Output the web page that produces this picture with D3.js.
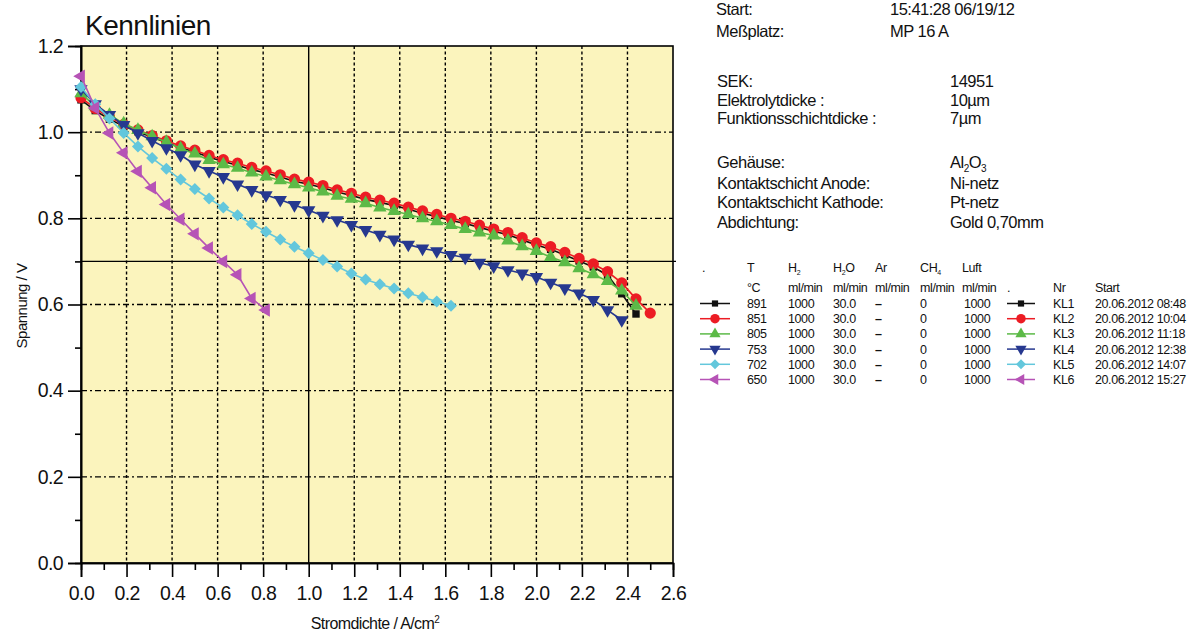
<!DOCTYPE html>
<html>
<head>
<meta charset="utf-8">
<script src="https://cdn.jsdelivr.net/npm/d3@7"></script>
<style>
  html, body { margin: 0; padding: 0; background: #ffffff; }
  svg { display: block; font-family: "Liberation Sans", Arial, sans-serif; }
</style>
</head>
<body>
<svg id="chart" width="1196" height="640"></svg>
<script>
// ---------------- DATA ----------------
const currentDensity = [0, 0.0625, 0.125, 0.1875, 0.25, 0.3125, 0.375, 0.4375, 0.5, 0.5625,
  0.625, 0.6875, 0.75, 0.8125, 0.875, 0.9375, 1.0, 1.0625, 1.125, 1.1875,
  1.25, 1.3125, 1.375, 1.4375, 1.5, 1.5625, 1.625, 1.6875, 1.75, 1.8125,
  1.875, 1.9375, 2.0, 2.0625, 2.125, 2.1875, 2.25, 2.3125, 2.375, 2.4375, 2.5];

const kl1Voltage = [1.075, 1.050, 1.030, 1.014, 1.001, 0.988, 0.976, 0.964, 0.954, 0.942,
  0.932, 0.923, 0.913, 0.905, 0.896, 0.886, 0.879, 0.871, 0.861, 0.853,
  0.844, 0.837, 0.830, 0.821, 0.812, 0.804, 0.795, 0.788, 0.779, 0.770,
  0.762, 0.750, 0.738, 0.728, 0.715, 0.701, 0.687, 0.668, 0.625, 0.578];
const kl2Voltage = [1.080, 1.055, 1.035, 1.018, 1.005, 0.992, 0.980, 0.968, 0.958, 0.946,
  0.936, 0.928, 0.918, 0.910, 0.901, 0.891, 0.884, 0.876, 0.866, 0.858,
  0.849, 0.842, 0.835, 0.826, 0.817, 0.809, 0.800, 0.793, 0.784, 0.775,
  0.767, 0.755, 0.743, 0.734, 0.721, 0.707, 0.694, 0.676, 0.650, 0.613, 0.580];
const kl3Voltage = [1.090, 1.060, 1.040, 1.020, 1.005, 0.990, 0.977, 0.962, 0.950, 0.935,
  0.925, 0.917, 0.906, 0.897, 0.888, 0.879, 0.871, 0.862, 0.852, 0.845,
  0.835, 0.825, 0.817, 0.809, 0.800, 0.793, 0.784, 0.775, 0.767, 0.760,
  0.748, 0.735, 0.724, 0.710, 0.698, 0.684, 0.670, 0.654, 0.632, 0.597];
const kl4Voltage = [1.100, 1.065, 1.040, 1.017, 0.998, 0.980, 0.963, 0.947, 0.925, 0.910,
  0.896, 0.879, 0.866, 0.854, 0.843, 0.831, 0.819, 0.806, 0.796, 0.785,
  0.773, 0.762, 0.751, 0.739, 0.730, 0.724, 0.715, 0.709, 0.697, 0.689,
  0.680, 0.672, 0.664, 0.651, 0.638, 0.626, 0.611, 0.587, 0.564];
const kl5Voltage = [1.105, 1.065, 1.032, 0.998, 0.967, 0.940, 0.915, 0.890, 0.868, 0.846,
  0.825, 0.807, 0.787, 0.769, 0.751, 0.734, 0.719, 0.703, 0.688, 0.672,
  0.658, 0.647, 0.637, 0.626, 0.617, 0.607, 0.597];
const kl6Voltage = [1.130, 1.056, 0.998, 0.952, 0.909, 0.871, 0.832, 0.798, 0.764, 0.731,
  0.700, 0.669, 0.614, 0.587];

const seriesNames = ["KL1", "KL2", "KL3", "KL4", "KL5", "KL6"];
const temperatures = ["891", "851", "805", "753", "702", "650"];
const h2Flow = ["1000", "1000", "1000", "1000", "1000", "1000"];
const h2oFlow = ["30.0", "30.0", "30.0", "30.0", "30.0", "30.0"];
const arFlow = ["–", "–", "–", "–", "–", "–"];
const ch4Flow = ["0", "0", "0", "0", "0", "0"];
const airFlow = ["1000", "1000", "1000", "1000", "1000", "1000"];
const startTimes = ["20.06.2012 08:48", "20.06.2012 10:04", "20.06.2012 11:18",
  "20.06.2012 12:38", "20.06.2012 14:07", "20.06.2012 15:27"];

const xTicks = [0, 0.2, 0.4, 0.6, 0.8, 1.0, 1.2, 1.4, 1.6, 1.8, 2.0, 2.2, 2.4, 2.6];
const xMinorTicks = [0.1, 0.3, 0.5, 0.7, 0.9, 1.1, 1.3, 1.5, 1.7, 1.9, 2.1, 2.3, 2.5];
const yTicks = [0, 0.2, 0.4, 0.6, 0.8, 1.0, 1.2];
const yMinorTicks = [0.1, 0.3, 0.5, 0.7, 0.9, 1.1];

const infoLabels1 = ["Start:", "Meßplatz:"];
const infoValues1 = ["15:41:28 06/19/12", "MP 16 A"];
const infoLabels2 = ["SEK:", "Elektrolytdicke :", "Funktionsschichtdicke :"];
const infoValues2 = ["14951", "10µm", "7µm"];
const infoLabels3 = ["Gehäuse:", "Kontaktschicht Anode:", "Kontaktschicht Kathode:", "Abdichtung:"];
const infoValues3 = ["Al2O3", "Ni-netz", "Pt-netz", "Gold 0,70mm"];

// ---------------- STYLE ----------------
const colors = ["#111111", "#ec1c24", "#5cba47", "#26388f", "#63c7dc", "#b653b6"];
const symbols = [
  {type: d3.symbolSquare, size: 55, rot: 0},
  {type: d3.symbolCircle, size: 100, rot: 0},
  {type: d3.symbolTriangle, size: 78, rot: 0},
  {type: d3.symbolTriangle, size: 78, rot: 180},
  {type: d3.symbolSquare, size: 72, rot: 45},
  {type: d3.symbolTriangle, size: 78, rot: -90}
];
const allVoltages = [kl1Voltage, kl2Voltage, kl3Voltage, kl4Voltage, kl5Voltage, kl6Voltage];

const svg = d3.select("#chart");
const plot = {left: 81, right: 673, top: 46, bottom: 563};
const x = d3.scaleLinear().domain([0, 2.6]).range([plot.left, plot.right]);
const y = d3.scaleLinear().domain([0, 1.2]).range([plot.bottom, plot.top]);

// background
svg.append("rect").attr("x", plot.left).attr("y", plot.top)
  .attr("width", plot.right - plot.left).attr("height", plot.bottom - plot.top)
  .attr("fill", "#fbf4bd");

// grid
const grid = svg.append("g");
grid.selectAll("line.vg").data(xTicks.filter(v => v > 0 && v < 2.6 && v !== 1.0)).enter()
  .append("line").attr("x1", d => x(d)).attr("x2", d => x(d))
  .attr("y1", plot.top).attr("y2", plot.bottom)
  .attr("stroke", "#000").attr("stroke-width", 1.4).attr("stroke-dasharray", "3,2.5");
grid.selectAll("line.hg").data(yTicks.filter(v => v > 0 && v < 1.2)).enter()
  .append("line").attr("y1", d => y(d)).attr("y2", d => y(d))
  .attr("x1", plot.left).attr("x2", plot.right)
  .attr("stroke", "#000").attr("stroke-width", 1.4).attr("stroke-dasharray", "6,3,2,3");
// solid reference lines
grid.append("line").attr("x1", x(1.0)).attr("x2", x(1.0)).attr("y1", plot.top).attr("y2", plot.bottom)
  .attr("stroke", "#000").attr("stroke-width", 1.4);
grid.append("line").attr("x1", plot.left).attr("x2", plot.right + 3).attr("y1", y(0.7)).attr("y2", y(0.7))
  .attr("stroke", "#000").attr("stroke-width", 1.4);

// frame
svg.append("rect").attr("x", plot.left).attr("y", plot.top)
  .attr("width", plot.right - plot.left).attr("height", plot.bottom - plot.top)
  .attr("fill", "none").attr("stroke", "#000").attr("stroke-width", 1.6);

// axes
const fmt = d3.format(".1f");
const xAxis = svg.append("g").attr("transform", `translate(0,${plot.bottom})`)
  .call(d3.axisBottom(x).tickValues(xTicks).tickSize(14).tickPadding(9).tickFormat(fmt));
const xMinor = svg.append("g").attr("transform", `translate(0,${plot.bottom})`)
  .call(d3.axisBottom(x).tickValues(xMinorTicks).tickSize(7).tickFormat(""));
const yAxis = svg.append("g").attr("transform", `translate(${plot.left},0)`)
  .call(d3.axisLeft(y).tickValues(yTicks).tickSize(13).tickPadding(5).tickFormat(fmt));
const yMinor = svg.append("g").attr("transform", `translate(${plot.left},0)`)
  .call(d3.axisLeft(y).tickValues(yMinorTicks).tickSize(6).tickFormat(""));
[xAxis, xMinor, yAxis, yMinor].forEach(g => {
  g.select(".domain").attr("stroke", "#000").attr("stroke-width", 1.6);
  g.selectAll(".tick line").attr("stroke", "#000").attr("stroke-width", 1.6);
  g.selectAll("text").attr("fill", "#111").style("font-size", "19.5px")
    .style("font-family", "'Liberation Sans', Arial, sans-serif").style("letter-spacing", "-0.6px");
});

// series
const lineGen = d3.line().x(d => x(d[0])).y(d => y(d[1]));
allVoltages.forEach((vals, i) => {
  const pts = vals.map((v, k) => [currentDensity[k], v]);
  const g = svg.append("g");
  g.append("path").datum(pts).attr("d", lineGen)
    .attr("fill", "none").attr("stroke", colors[i]).attr("stroke-width", 1.6);
  const sym = d3.symbol().type(symbols[i].type).size(symbols[i].size);
  g.selectAll("path.m").data(pts).enter().append("path")
    .attr("d", sym)
    .attr("transform", d => `translate(${x(d[0])},${y(d[1])}) rotate(${symbols[i].rot})`)
    .attr("fill", colors[i]);
});

// title & axis labels
svg.append("text").attr("x", 85).attr("y", 35).text("Kennlinien")
  .style("font-size", "28px").attr("fill", "#111").style("letter-spacing", "-0.5px");
svg.append("text").attr("transform", "translate(27,306) rotate(-90)")
  .attr("text-anchor", "middle").style("font-size", "15px").style("letter-spacing", "-0.5px")
  .attr("fill", "#111").text("Spannung / V");
const xl = svg.append("text").attr("x", 375).attr("y", 629).attr("text-anchor", "middle")
  .style("font-size", "16px").style("letter-spacing", "-0.6px").attr("fill", "#111");
xl.append("tspan").text("Stromdichte / A/cm");
xl.append("tspan").attr("dy", -6).style("font-size", "10px").text("2");

// info block
const info = svg.append("g").style("font-size", "16.5px").style("letter-spacing", "-0.5px").attr("fill", "#111");
const b1 = [15, 37], b2 = [87, 106, 124], b3 = [168, 189, 208, 228];
infoLabels1.forEach((t, i) => {
  info.append("text").attr("x", 716).attr("y", b1[i]).text(t);
  info.append("text").attr("x", 890).attr("y", b1[i]).text(infoValues1[i]);
});
infoLabels2.forEach((t, i) => {
  info.append("text").attr("x", 717).attr("y", b2[i]).text(t);
  info.append("text").attr("x", 950).attr("y", b2[i]).text(infoValues2[i]);
});
infoLabels3.forEach((t, i) => {
  info.append("text").attr("x", 717).attr("y", b3[i]).text(t);
  const tv = info.append("text").attr("x", 950).attr("y", b3[i]);
  if (infoValues3[i] === "Al2O3") {
    tv.append("tspan").text("Al");
    tv.append("tspan").attr("dy", 4).style("font-size", "10px").text("2");
    tv.append("tspan").attr("dy", -4).text("O");
    tv.append("tspan").attr("dy", 4).style("font-size", "10px").text("3");
  } else {
    tv.text(infoValues3[i]);
  }
});

// legend table
const leg = svg.append("g").style("font-size", "12.5px").style("letter-spacing", "-0.4px").attr("fill", "#111");
const colX = {T: 747, H2: 788, H2O: 833, Ar: 875, CH4: 920, Luft: 962, dot: 1007, Nr: 1053, Start: 1095};
const hdr1 = 272, hdr2 = 292;
leg.append("text").attr("x", 702).attr("y", hdr1).text(".");
leg.append("text").attr("x", colX.T).attr("y", hdr1).text("T");
let t = leg.append("text").attr("x", colX.H2).attr("y", hdr1);
t.append("tspan").text("H"); t.append("tspan").attr("dy", 3).style("font-size", "7px").text("2");
t = leg.append("text").attr("x", colX.H2O).attr("y", hdr1);
t.append("tspan").text("H"); t.append("tspan").attr("dy", 3).style("font-size", "7px").text("2");
t.append("tspan").attr("dy", -3).text("O");
leg.append("text").attr("x", colX.Ar).attr("y", hdr1).text("Ar");
t = leg.append("text").attr("x", colX.CH4).attr("y", hdr1);
t.append("tspan").text("CH"); t.append("tspan").attr("dy", 3).style("font-size", "7px").text("4");
leg.append("text").attr("x", colX.Luft).attr("y", hdr1).text("Luft");
leg.append("text").attr("x", colX.T).attr("y", hdr2).text("°C");
["H2", "H2O", "Ar", "CH4", "Luft"].forEach(k => {
  leg.append("text").attr("x", colX[k]).attr("y", hdr2).text("ml/min");
});
leg.append("text").attr("x", colX.dot).attr("y", hdr2).text(".");
leg.append("text").attr("x", colX.Nr).attr("y", hdr2).text("Nr");
leg.append("text").attr("x", colX.Start).attr("y", hdr2).text("Start");

const rowY = [303.5, 318.7, 333.9, 349.1, 364.3, 379.5];
seriesNames.forEach((name, i) => {
  const cy = rowY[i];
  const sym = d3.symbol().type(symbols[i].type).size(symbols[i].size * 0.7);
  [[700, 730, 715], [1007, 1035, 1021]].forEach(([a, b, m]) => {
    leg.append("line").attr("x1", a).attr("x2", b).attr("y1", cy).attr("y2", cy)
      .attr("stroke", colors[i]).attr("stroke-width", 1.5);
    leg.append("path").attr("d", sym)
      .attr("transform", `translate(${m},${cy}) rotate(${symbols[i].rot})`).attr("fill", colors[i]);
  });
  const by = cy + 4.5;
  leg.append("text").attr("x", colX.T).attr("y", by).text(temperatures[i]);
  leg.append("text").attr("x", colX.H2).attr("y", by).text(h2Flow[i]);
  leg.append("text").attr("x", colX.H2O).attr("y", by).text(h2oFlow[i]);
  leg.append("text").attr("x", colX.Ar).attr("y", by).style("font-weight", "bold").text(arFlow[i]);
  leg.append("text").attr("x", colX.CH4).attr("y", by).text(ch4Flow[i]);
  leg.append("text").attr("x", colX.Luft + 2).attr("y", by).text(airFlow[i]);
  leg.append("text").attr("x", colX.Nr).attr("y", by).text(name);
  leg.append("text").attr("x", colX.Start).attr("y", by).text(startTimes[i]);
});
</script>
</body>
</html>
